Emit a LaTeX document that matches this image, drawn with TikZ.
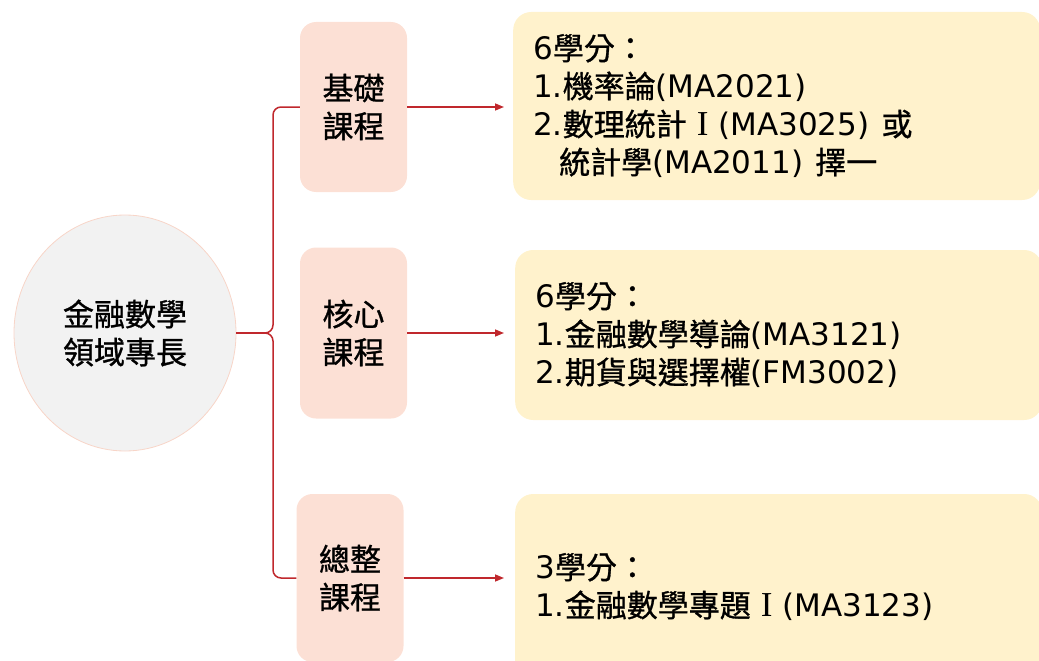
\documentclass[tikz,border=0pt]{standalone}
\usepackage{fontspec}
\setmainfont{Noto Sans CJK TC}[FakeBold=0.9]
\newfontfamily\lat{DejaVu Sans}
\newfontfamily\romI{Liberation Serif}
\usetikzlibrary{arrows.meta,shapes.geometric}
\definecolor{brRed}{HTML}{C0282D}
\definecolor{boxPink}{HTML}{FCE0D5}
\definecolor{boxYellow}{HTML}{FFF2CC}
\definecolor{circFill}{HTML}{F2F2F2}
\definecolor{circLine}{HTML}{F8D5C8}
\newcommand{\LT}[1]{{\lat #1}}
\newcommand{\RI}{\hspace*{10pt}{\romI\fontsize{35pt}{38pt}\selectfont I}\hspace*{10pt}}
\tikzset{
  txt/.style={font=\fontsize{31pt}{38pt}\selectfont},
  catbox/.style={txt, fill=boxPink, rounded corners=16pt, minimum width=107pt, align=center, inner sep=0pt},
  infobox/.style={txt, fill=boxYellow, rounded corners=18pt, text width=487pt, inner xsep=20pt, inner ysep=0pt, align=left, anchor=west},
  redline/.style={draw=brRed, line width=1.5pt},
  redarrow/.style={redline, -{Triangle[length=9pt,width=7pt]}},
}
\begin{document}
\begin{tikzpicture}[x=1pt,y=-1pt]
\useasboundingbox (0,0) rectangle (1039,661);
\clip (0,0) rectangle (1039,661);
% center
\node[ellipse, txt, fill=circFill, draw=circLine, line width=0.8pt, minimum width=222pt, minimum height=236pt, align=center, inner sep=0pt] (c) at (125,333) {金融數學\\領域專長};
% category boxes
\node[catbox, minimum height=170pt] (b1) at (353.5,107) {基礎\\課程};
\node[catbox, minimum height=171pt] (b2) at (353.5,333) {核心\\課程};
\node[catbox, minimum height=168pt] (b3) at (350,578) {總整\\課程};
% info boxes
\node[infobox, minimum height=188pt] (i1) at (513,106) {\LT{6}學分：\\\LT{1.}機率論\LT{(MA2021)}\\\LT{2.}數理統計\RI\LT{(MA3025)}\hspace*{12pt}或\\\hspace*{26pt}統計學\LT{(MA2011)}\hspace*{12pt}擇一};
\node[infobox, minimum height=170pt] (i2) at (515,335) {\LT{6}學分：\\\LT{1.}金融數學導論\LT{(MA3121)}\\\LT{2.}期貨與選擇權\LT{(FM3002)}};
\node[infobox, minimum height=186pt] (i3) at (515,587) {\LT{3}學分：\\\LT{1.}金融數學專題\RI\LT{(MA3123)}};
% brace
\coordinate (cusp) at (265,333);
\draw[redline] (b1.west) -- (281,107) to[out=180,in=90] (273,115) -- (273,325) to[out=-90,in=0] (cusp) to[out=0,in=90] (273,341) -- (273,570) to[out=-90,in=180] (281,578) -- (b3.west);
\draw[redline] (c.east) -- (cusp);
% arrows
\coordinate (ax) at (504,0);
\draw[redarrow] (b1.east) -- (b1.east -| ax);
\draw[redarrow] (b2.east) -- (b2.east -| ax);
\draw[redarrow] (b3.east) -- (b3.east -| ax);
\end{tikzpicture}
\end{document}
